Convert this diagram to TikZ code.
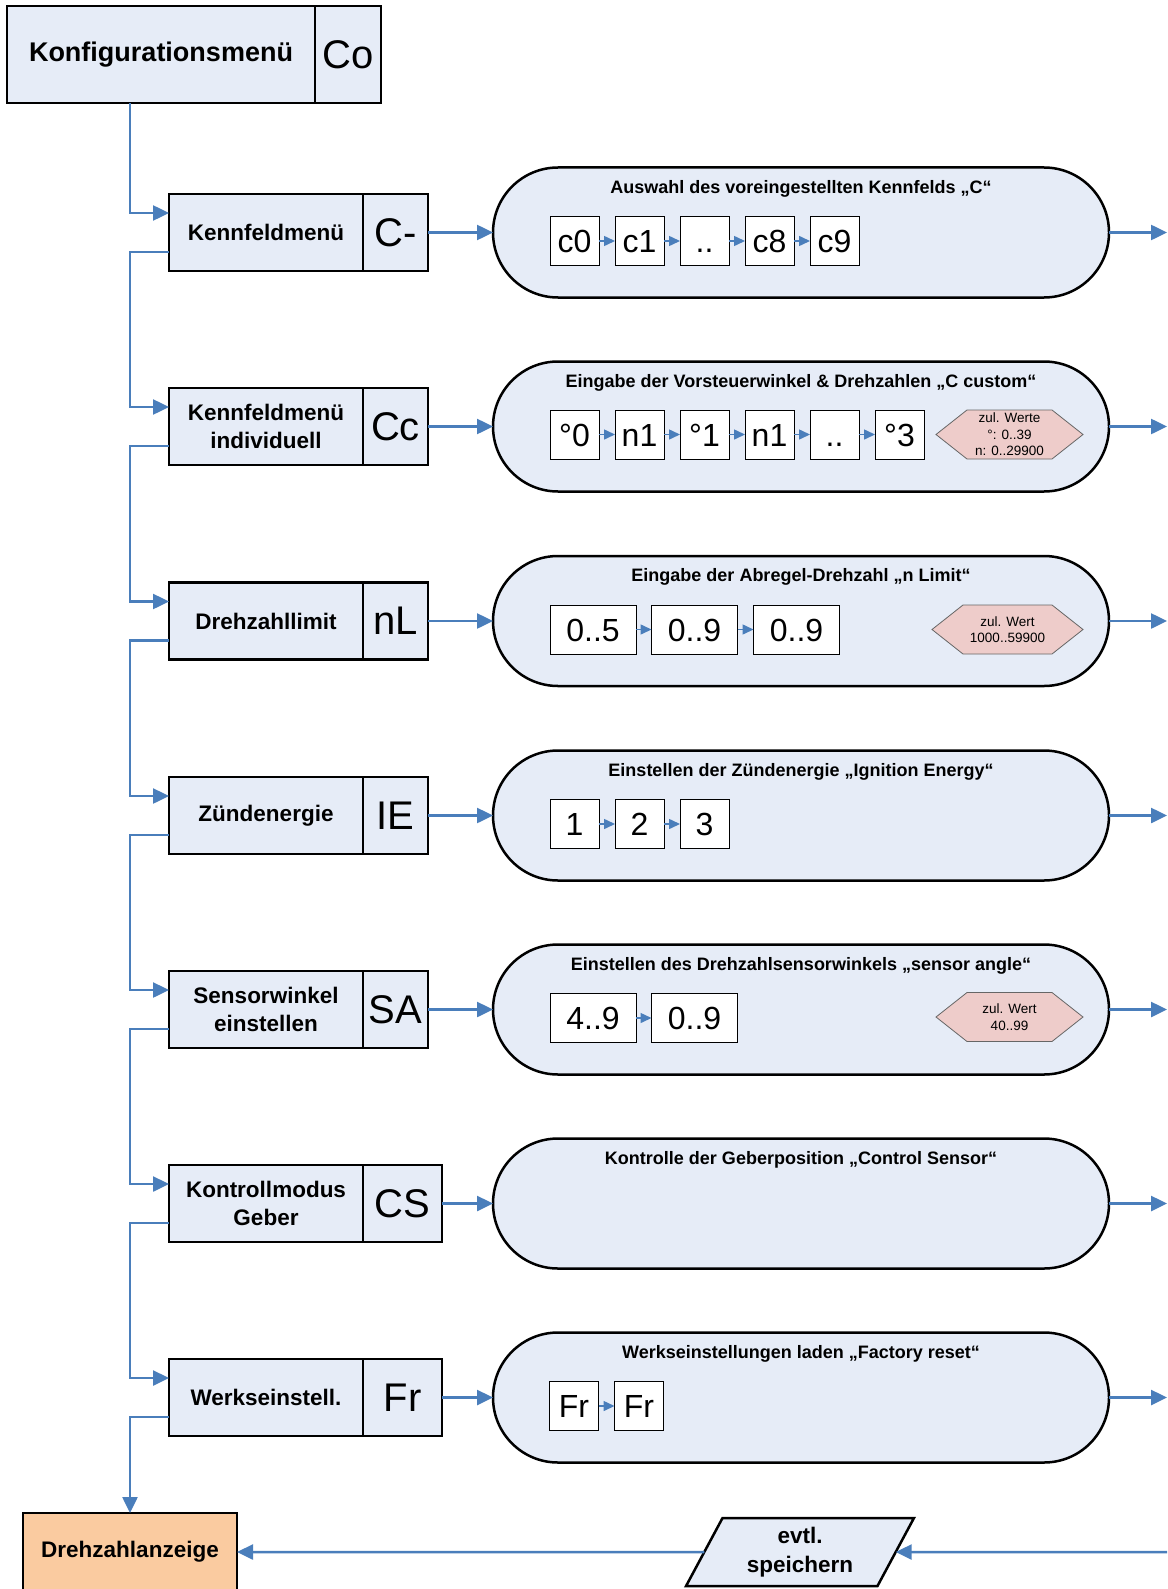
\documentclass[tikz,border=0pt]{standalone}
\usepackage{fontspec}
\setmainfont{Liberation Sans}
\usetikzlibrary{shapes.geometric,shapes.misc,arrows.meta,calc}
\definecolor{boxfill}{RGB}{230,236,247}
\definecolor{conn}{RGB}{74,126,187}
\definecolor{hexfill}{RGB}{238,204,202}
\definecolor{peach}{RGB}{250,203,160}
% hexagon: centre x, centre y, width
\newcommand{\hexshape}[3]{\path[hexa] (#1-#3/2,#2) -- ++(31,-24.5) -- ++(#3-62,0) -- ++(31,24.5) -- ++(-31,24.5) -- ++(62-#3,0) -- cycle;}
\begin{document}
\begin{tikzpicture}[x=1pt,y=-1pt,
  every node/.style={outer sep=0pt},
  mainbox/.style={draw,line width=2.5pt,fill=boxfill,inner sep=0pt,minimum height=77pt,minimum width=194pt,anchor=north west,font=\bfseries\fontsize{22.5}{27.5}\selectfont,align=center},
  codebox/.style={draw,line width=2.5pt,fill=boxfill,inner sep=0pt,minimum height=77pt,minimum width=65pt,anchor=north west,font=\fontsize{40}{40}\selectfont},
  capsule/.style={rounded rectangle,draw,line width=2.5pt,fill=boxfill,minimum width=616pt,minimum height=130pt,inner sep=0pt},
  title/.style={font=\bfseries\fontsize{18}{18}\selectfont,inner sep=0pt},
  valbox/.style={draw,line width=1pt,fill=white,minimum width=49pt,minimum height=49pt,inner sep=0pt,text height=23pt,text depth=0pt,font=\fontsize{32}{32}\selectfont},
  widebox/.style={valbox,minimum width=86pt},
  hexa/.style={draw=black!60,line width=0.8pt,fill=hexfill},
  hextext/.style={inner sep=0pt,align=center,font=\fontsize{13.5}{16.5}\selectfont},
  flow/.style={draw=conn,line width=2.5pt,-{Triangle[length=16pt,width=15pt]}},
  small/.style={draw=conn,line width=1.5pt,-{Triangle[length=11pt,width=10pt]}},
]
\useasboundingbox (0,0) rectangle (1167,1589);
\clip (0,0) rectangle (1167,1589);

% top box
\node[draw,line width=2.5pt,fill=boxfill,inner sep=0pt,minimum width=308pt,minimum height=97pt,anchor=north west,font=\bfseries\fontsize{27}{27}\selectfont] (co) at (7,6) {Konfigurationsmenü};
\node[draw,line width=2.5pt,fill=boxfill,inner sep=0pt,minimum width=66pt,minimum height=97pt,anchor=north west,font=\fontsize{40}{40}\selectfont] (coc) at (co.north east) {Co};

% row 1
\node[mainbox] (k1) at (169,194) {Kennfeldmenü};
\node[codebox] (k1c) at (k1.north east) {C-};
\node[capsule] (p1) at (801,232.5) {};
\node[title] (t1) at ([yshift=-21pt]p1.north) {Auswahl des voreingestellten Kennfelds „C“};
\node[valbox] (a1) at (574.5,241) {c0};
\node[valbox] (a2) at (639.5,241) {c1};
\node[valbox] (a3) at (704.5,241) {..};
\node[valbox] (a4) at (769.5,241) {c8};
\node[valbox] (a5) at (834.5,241) {c9};
\draw[small] (a1) -- (a2);
\draw[small] (a2) -- (a3);
\draw[small] (a3) -- (a4);
\draw[small] (a4) -- (a5);

% row 2
\node[mainbox] (k2) at (169,388) {Kennfeldmenü\\individuell};
\node[codebox] (k2c) at (k2.north east) {Cc};
\node[capsule] (p2) at (801,426.5) {};
\node[title] (t2) at ([yshift=-21pt]p2.north) {Eingabe der Vorsteuerwinkel \& Drehzahlen „C custom“};
\node[valbox] (b1) at (574.5,434.5) {°0};
\node[valbox] (b2) at (639.5,434.5) {n1};
\node[valbox] (b3) at (704.5,434.5) {°1};
\node[valbox] (b4) at (769.5,434.5) {n1};
\node[valbox] (b5) at (834.5,434.5) {..};
\node[valbox] (b6) at (899.5,434.5) {°3};
\draw[small] (b1) -- (b2);
\draw[small] (b2) -- (b3);
\draw[small] (b3) -- (b4);
\draw[small] (b4) -- (b5);
\draw[small] (b5) -- (b6);
\hexshape{1009.5}{434.5}{147}
\node[hextext] (h2) at (1009.5,434.5) {zul. Werte\\°: 0..39\\n: 0..29900};

% row 3
\node[mainbox] (k3) at (169,582.5) {Drehzahllimit};
\node[codebox] (k3c) at (k3.north east) {nL};
\node[capsule] (p3) at (801,621) {};
\node[title] (t3) at ([yshift=-21pt]p3.north) {Eingabe der Abregel-Drehzahl „n Limit“};
\node[widebox] (c1) at (593,629.5) {0..5};
\node[widebox] (c2) at (694.5,629.5) {0..9};
\node[widebox] (c3) at (796.5,629.5) {0..9};
\draw[small] (c1) -- (c2);
\draw[small] (c2) -- (c3);
\hexshape{1007.5}{629.5}{151}
\node[hextext] (h3) at (1007.5,629.5) {zul. Wert\\1000..59900};

% row 4
\node[mainbox] (k4) at (169,777) {Zündenergie};
\node[codebox] (k4c) at (k4.north east) {IE};
\node[capsule] (p4) at (801,815.5) {};
\node[title] (t4) at ([yshift=-21pt]p4.north) {Einstellen der Zündenergie „Ignition Energy“};
\node[valbox] (d1) at (574.5,824) {1};
\node[valbox] (d2) at (639.5,824) {2};
\node[valbox] (d3) at (704.5,824) {3};
\draw[small] (d1) -- (d2);
\draw[small] (d2) -- (d3);

% row 5
\node[mainbox] (k5) at (169,971) {Sensorwinkel\\einstellen};
\node[codebox] (k5c) at (k5.north east) {SA};
\node[capsule] (p5) at (801,1009.5) {};
\node[title] (t5) at ([yshift=-21pt]p5.north) {Einstellen des Drehzahlsensorwinkels „sensor angle“};
\node[widebox] (e1) at (593,1018) {4..9};
\node[widebox] (e2) at (694.5,1018) {0..9};
\draw[small] (e1) -- (e2);
\hexshape{1009.5}{1017}{147}
\node[hextext] (h5) at (1009.5,1017) {zul. Wert\\40..99};

% row 6
\node[mainbox] (k6) at (169,1165) {Kontrollmodus\\Geber};
\node[codebox,minimum width=79pt] (k6c) at (k6.north east) {CS};
\node[capsule] (p6) at (801,1203.5) {};
\node[title] (t6) at ([yshift=-21pt]p6.north) {Kontrolle der Geberposition „Control Sensor“};

% row 7
\node[mainbox] (k7) at (169,1359) {Werkseinstell.};
\node[codebox,minimum width=79pt] (k7c) at (k7.north east) {Fr};
\node[capsule] (p7) at (801,1397.5) {};
\node[title] (t7) at ([yshift=-21pt]p7.north) {Werkseinstellungen laden „Factory reset“};
\node[valbox] (f1) at (574,1406) {Fr};
\node[valbox] (f2) at (639,1406) {Fr};
\draw[small] (f1) -- (f2);

% horizontal arrows
\foreach \i/\y in {1/232.5,2/426.5,3/621,4/815.5,5/1009.5,6/1203.5,7/1397.5}{
  \coordinate (o\i) at (1167,\y);
  \draw[flow] (k\i c.east) -- (k\i c.east -| p\i.west);
  \draw[flow] (p\i.east) -- (o\i);
}

% bottom
\node[draw,line width=2.5pt,fill=peach,inner sep=0pt,minimum width=214pt,minimum height=78pt,font=\bfseries\fontsize{22.5}{27}\selectfont] (dz) at (130,1552) {Drehzahlanzeige};
\node[trapezium,trapezium left angle=63.4,trapezium right angle=116.6,trapezium stretches=true,draw,line width=2.5pt,fill=boxfill,inner sep=0pt,minimum width=228pt,minimum height=68pt,align=center,font=\bfseries\fontsize{22.5}{29}\selectfont] (par) at (800,1552) {evtl.\\speichern};
\coordinate (rin) at (1167,1552);
\draw[flow] (rin) -- (par);
\draw[flow] (par) -- (dz);

% vertical connectors
\draw[flow] ([xshift=123pt]co.south west) |- ([yshift=-19pt]k1.north west);
\draw[flow] ([yshift=-58pt]k1.north west) -- ++(-39,0) |- ([yshift=-19pt]k2.north west);
\draw[flow] ([yshift=-58pt]k2.north west) -- ++(-39,0) |- ([yshift=-19pt]k3.north west);
\draw[flow] ([yshift=-58pt]k3.north west) -- ++(-39,0) |- ([yshift=-19pt]k4.north west);
\draw[flow] ([yshift=-58pt]k4.north west) -- ++(-39,0) |- ([yshift=-19pt]k5.north west);
\draw[flow] ([yshift=-58pt]k5.north west) -- ++(-39,0) |- ([yshift=-19pt]k6.north west);
\draw[flow] ([yshift=-58pt]k6.north west) -- ++(-39,0) |- ([yshift=-19pt]k7.north west);
\draw[flow] ([yshift=-58pt]k7.north west) -| (dz.north);
\end{tikzpicture}
\end{document}
